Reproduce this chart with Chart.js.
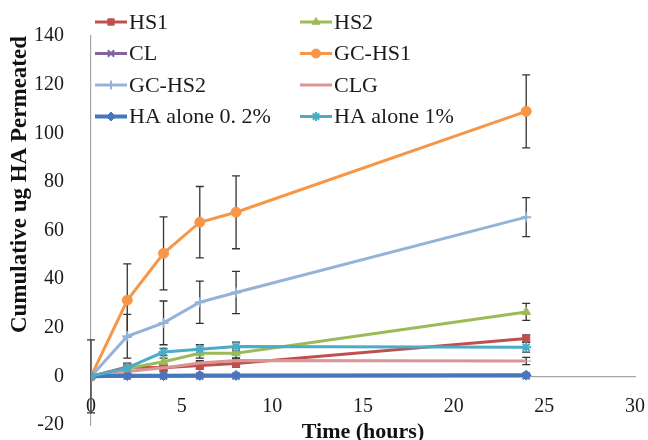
<!DOCTYPE html>
<html>
<head>
<meta charset="utf-8">
<script src="https://cdn.jsdelivr.net/npm/chart.js@4.4.0/dist/chart.umd.min.js"></script>
<style>
  html, body { margin: 0; padding: 0; background: #fff; }
  #wrap { width: 648px; height: 440px; position: relative; }
</style>
</head>
<body>
<div id="wrap"><canvas id="myChart"></canvas></div>
<script>
// sampling times (hours)
const times = [0, 2, 4, 6, 8, 24];

// cumulative ug HA permeated
const hs1 = [0, 3.9, 3.5, 4.5, 5.3, 15.6];
const hs2 = [0, 3.3, 6, 9.5, 9.5, 26.5];
const cl = [0, 0.1, 0.1, 0.2, 0.2, 0.3];
const gcHs1 = [0, 31.3, 50.6, 63.4, 67.5, 109];
const gcHs2 = [0, 16.5, 22, 30.5, 34.5, 65.5];
const clg = [0, 2, 3.5, 5.5, 6.5, 6.3];
const ha02 = [0, 0.3, 0.3, 0.4, 0.4, 0.5];
const ha1 = [0, 3.5, 10, 11.2, 12.3, 12];

// error bars (+/-)
const hs1Err = [0, 1.5, 1.5, 1.5, 1.5, 1.5];
const hs2Err = [0, 1.5, 1.5, 2, 2, 3.5];
const clErr = [0, 0, 0, 0, 0, 0];
const gcHs1Err = [15, 15, 15, 14.7, 15, 15];
const gcHs2Err = [0, 9, 9, 8.7, 8.7, 8];
const clgErr = [0, 1, 1, 1, 1, 1.5];
const ha02Err = [0, 0.3, 0.3, 0.3, 0.3, 0.3];
const ha1Err = [0, 1.5, 1.5, 1.8, 1.8, 2];

const seriesNames = ['HS1', 'HS2', 'CL', 'GC-HS1', 'GC-HS2', 'CLG', 'HA alone 0. 2%', 'HA alone 1%'];
const seriesValues = [hs1, hs2, cl, gcHs1, gcHs2, clg, ha02, ha1];
const seriesErrors = [hs1Err, hs2Err, clErr, gcHs1Err, gcHs2Err, clgErr, ha02Err, ha1Err];
const seriesColors = ['#C0504D', '#9BBB59', '#8064A2', '#F79646', '#95B3D7', '#D99694', '#4677BB', '#4BACC6'];
const seriesMarkers = ['rect', 'triangle', 'crossRot', 'circle', 'cross', 'line', 'rectRot', 'star'];

const xTicks = [0, 5, 10, 15, 20, 25, 30];
const yTicks = [-20, 0, 20, 40, 60, 80, 100, 120, 140];

const serif = 'Liberation Serif, Times New Roman, serif';

const datasets = seriesNames.map((name, i) => ({
    label: name,
    data: times.map((t, j) => ({ x: t, y: seriesValues[i][j] })),
    err: seriesErrors[i],
    borderColor: seriesColors[i],
    backgroundColor: seriesColors[i],
    pointBackgroundColor: seriesColors[i],
    pointBorderColor: seriesColors[i],
    pointStyle: seriesMarkers[i],
    pointRadius: 5,
    pointBorderWidth: (seriesMarkers[i] === 'cross' || seriesMarkers[i] === 'crossRot' || seriesMarkers[i] === 'star') ? 2 : 1,
    borderWidth: i === 6 ? 4 : 3,
    tension: 0,
    fill: false,
    order: seriesNames.length - i
}));

// error bars drawn through the scales
const errorBars = {
    id: 'errorBars',
    beforeDatasetsDraw(chart) {
        const ctx = chart.ctx;
        const xs = chart.scales.x, ys = chart.scales.y;
        ctx.save();
        ctx.strokeStyle = '#333';
        ctx.lineWidth = 1.3;
        chart.data.datasets.forEach(ds => {
            ds.data.forEach((p, j) => {
                const e = ds.err[j];
                if (!e) return;
                const px = xs.getPixelForValue(p.x);
                const top = ys.getPixelForValue(p.y + e);
                const bot = ys.getPixelForValue(p.y - e);
                ctx.beginPath();
                ctx.moveTo(px, top); ctx.lineTo(px, bot);
                ctx.moveTo(px - 4, top); ctx.lineTo(px + 4, top);
                ctx.moveTo(px - 4, bot); ctx.lineTo(px + 4, bot);
                ctx.stroke();
            });
        });
        ctx.restore();
    }
};

// two-column legend inside the plot, like the original
const insideLegend = {
    id: 'insideLegend',
    afterDraw(chart) {
        const ctx = chart.ctx;
        ctx.save();
        ctx.font = '22px ' + serif;
        ctx.textBaseline = 'middle';
        chart.data.datasets.forEach((ds, i) => {
            const col = i % 2, row = Math.floor(i / 2);
            const x = col === 0 ? 95 : 300;
            const y = 22 + row * 31.5;
            ctx.strokeStyle = ds.borderColor;
            ctx.lineWidth = ds.borderWidth;
            ctx.beginPath();
            ctx.moveTo(x, y); ctx.lineTo(x + 32, y);
            ctx.stroke();
            ctx.fillStyle = ds.pointBackgroundColor;
            ctx.lineWidth = ds.pointBorderWidth;
            Chart.helpers.drawPoint(ctx, { pointStyle: ds.pointStyle, radius: 4.5, rotation: 0, borderWidth: ds.pointBorderWidth }, x + 16, y);
            ctx.fillStyle = '#1a1a1a';
            ctx.fillText(ds.label, x + 34, y + 1);
        });
        ctx.restore();
    }
};

const ctx = document.getElementById('myChart').getContext('2d');
const myChart = new Chart(ctx, {
    type: 'line',
    data: { datasets: datasets },
    options: {
        responsive: true,
        maintainAspectRatio: false,
        animation: false,
        layout: { padding: { left: 0, right: 13, top: 36, bottom: 15 } },
        plugins: {
            legend: { display: false },
            tooltip: { enabled: false }
        },
        scales: {
            x: {
                type: 'linear',
                position: { y: 0 },
                min: 0, max: 30,
                afterBuildTicks: axis => { axis.ticks = xTicks.map(v => ({ value: v })); },
                afterFit: axis => { axis.height = 69; axis.paddingLeft = 0; axis.paddingRight = 0; },
                grid: { display: false, drawTicks: false },
                border: { display: true, color: '#A6A6A6', width: 1.2 },
                ticks: { color: '#1a1a1a', font: { family: serif, size: 20 }, padding: 18 },
                title: { display: true, text: 'Time (hours)', color: '#111', font: { family: serif, size: 22, weight: 'bold' }, padding: { top: 0, bottom: 0 } }
            },
            y: {
                min: -20, max: 140,
                afterBuildTicks: axis => { axis.ticks = yTicks.map(v => ({ value: v })); },
                afterFit: axis => { axis.width = 91; axis.paddingTop = 0; axis.paddingBottom = 0; },
                grid: { display: false, drawTicks: false },
                border: { display: true, color: '#A6A6A6', width: 1.2 },
                ticks: { color: '#1a1a1a', font: { family: serif, size: 20 }, padding: 27 },
                title: { display: true, text: 'Cumulative ug HA Permeated', align: 'end', color: '#111', font: { family: serif, size: 23, weight: 'bold' }, padding: { top: 6, bottom: 0 } }
            }
        }
    },
    plugins: [errorBars, insideLegend]
});
</script>
</body>
</html>
